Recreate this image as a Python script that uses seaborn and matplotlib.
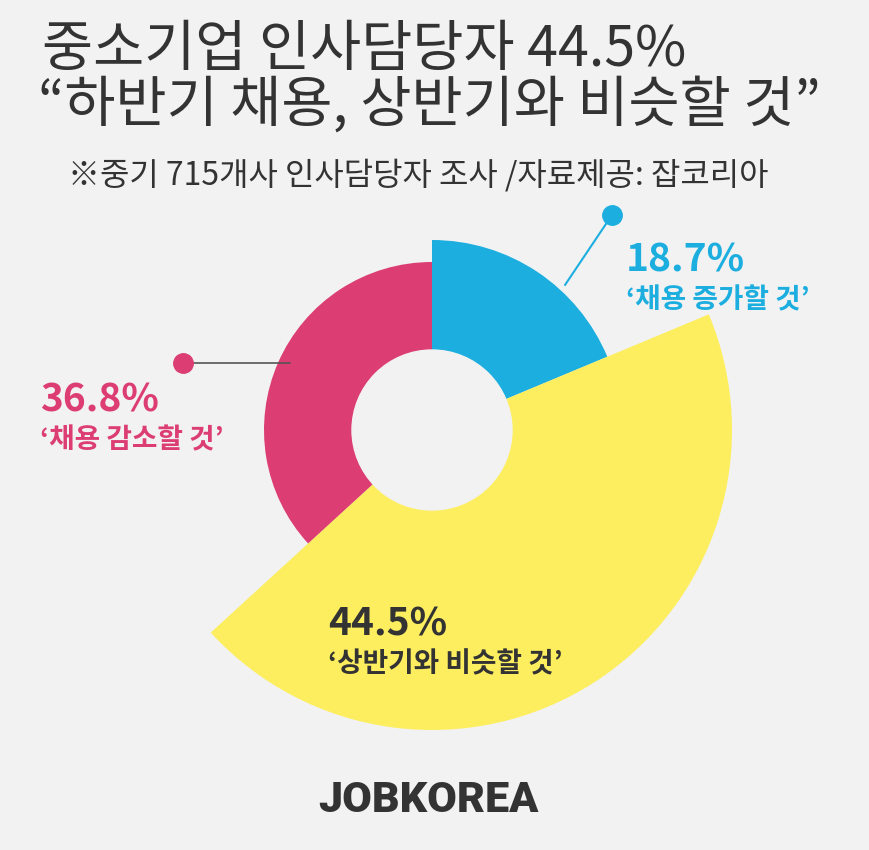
import matplotlib
matplotlib.use("Agg")
import matplotlib.pyplot as plt
import seaborn as sns
from matplotlib.patches import Circle

sns.set_theme(style="white")
plt.rcParams['font.family'] = ['Noto Sans CJK KR', 'DejaVu Sans']

categories = ["‘채용 증가할 것’", "‘상반기와 비슷할 것’", "‘채용 감소할 것’"]
values = [18.7, 44.5, 36.8]
pct_labels = ["18.7%", "44.5%", "36.8%"]
colors = ["#1daee0", "#fdee5f", "#dc3d73"]
radii = [190, 300, 168]

BG = "#f2f2f2"
fig = plt.figure(figsize=(8.7, 8.5), dpi=100, facecolor=BG)
ax = fig.add_axes([0, 0, 1, 1])
ax.set_facecolor(BG)

cx, cy = 432, 420
for i, r in enumerate(radii):
    cols = [colors[j] if j == i else (0, 0, 0, 0) for j in range(len(values))]
    ax.pie(values, colors=cols, radius=r, center=(cx, cy), startangle=90,
           counterclock=False, wedgeprops=dict(linewidth=0), frame=True)
ax.add_patch(Circle((cx, cy), 80, color=BG, zorder=5))
ax.set_xlim(0, 870); ax.set_ylim(0, 850); ax.set_aspect('equal'); ax.axis('off')

dark = "#333333"
ax.text(42, 850-50, "중소기업 인사담당자 44.5%", fontsize=40, color=dark, va='center', weight='medium')
ax.text(38, 850-106, "“하반기 채용, 상반기와 비슷할 것”", fontsize=40, color=dark, va='center', weight='medium')
ax.text(68, 850-175, "※중기 715개사 인사담당자 조사 /자료제공: 잡코리아", fontsize=23, color=dark, va='center')

ax.plot([612, 565], [850-215, 850-285], color=colors[0], lw=1.5, zorder=6)
ax.plot([612], [850-215], 'o', ms=14, color=colors[0], zorder=6)
ax.plot([183, 290], [850-363, 850-363], color="#555555", lw=1.2, zorder=6)
ax.plot([183], [850-363], 'o', ms=14, color=colors[2], zorder=6)

ax.text(626, 850-260, pct_labels[0], fontsize=28, color=colors[0], va='center', weight='bold')
ax.text(626, 850-300, categories[0], fontsize=20, color=colors[0], va='center', weight='bold')
ax.text(40, 850-400, pct_labels[2], fontsize=28, color=colors[2], va='center', weight='bold')
ax.text(40, 850-440, categories[2], fontsize=20, color=colors[2], va='center', weight='bold')
ax.text(328, 850-624, pct_labels[1], fontsize=28, color=dark, va='center', weight='bold', zorder=7)
ax.text(328, 850-664, categories[1], fontsize=20, color=dark, va='center', weight='bold', zorder=7)

ax.text(428, 850-800, "JOBKOREA", fontsize=31, color=dark, ha='center', va='center',
        weight='black', family=['Roboto', 'DejaVu Sans'])

fig.savefig("out.png", dpi=100, facecolor=BG)
